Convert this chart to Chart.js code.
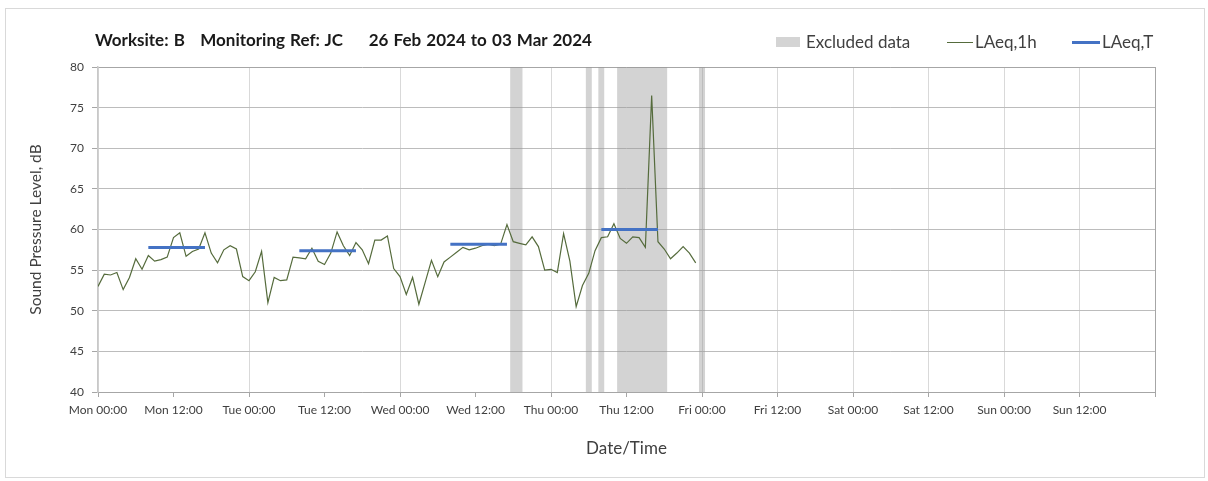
<!DOCTYPE html>
<html>
<head>
<meta charset="utf-8">
<script src="https://cdn.jsdelivr.net/npm/chart.js@4/dist/chart.umd.min.js"></script>
<style>
body{margin:0;background:#fff;font-family:Lato,"Open Sans",sans-serif;}
#wrap{position:relative;width:1208px;height:481px;overflow:hidden;}
#frame{position:absolute;left:5px;top:8px;width:1200px;height:470px;border:1px solid #d9d9d9;box-sizing:border-box;}
#chart{position:absolute;left:0;top:0;}
#title{position:absolute;left:95px;top:29px;font-size:17px;font-weight:bold;color:#1a1a1a;white-space:pre;word-spacing:1px;}
.leg{position:absolute;top:31px;font-size:17px;color:#404040;white-space:pre;}
.mk{position:absolute;}
</style>
</head>
<body>
<div id="wrap">
<div id="frame"></div>
<canvas id="chart" width="1208" height="481"></canvas>
<div id="title">Worksite: B   Monitoring Ref: JC     26 Feb 2024 to 03 Mar 2024</div>
<div id="legend"></div>
</div>
<script>
// hourly LAeq,1h from Mon 00:00 (hour 0) to Thu 23:00 (hour 95)
const laeq1h = [
53.0,54.5,54.4,54.7,52.6,54.1,56.4,55.1,56.8,56.1,56.3,56.6,
59.0,59.6,56.7,57.3,57.6,59.6,57.1,55.9,57.5,58.0,57.6,54.2,
53.7,54.8,57.3,51.0,54.1,53.7,53.8,56.6,56.5,56.4,57.7,56.1,
55.7,57.1,59.7,58.0,56.8,58.4,57.5,55.8,58.7,58.7,59.2,55.2,
54.2,52.0,54.1,50.8,53.5,56.2,54.2,56.0,56.6,57.2,57.8,57.5,
57.7,58.0,58.2,58.0,58.2,60.6,58.5,58.3,58.1,59.1,57.9,55.0,
55.1,54.7,59.5,56.1,50.5,53.1,54.6,57.4,59.0,59.1,60.7,58.9,
58.3,59.1,59.0,57.8,76.5,58.5,57.6,56.4,57.1,57.9,57.1,55.9
];

// LAeq,T per working day (hours from Mon 00:00)
const periodStart = [8,32,56,80];
const periodEnd = [17,41,65,89];
const laeqT = [57.8,57.4,58.2,60.0];

// hours flagged as excluded
const excludedHours = [66,67,78,80,83,84,85,86,87,88,89,90,96];

const xTickLabels = ["Mon 00:00","Mon 12:00","Tue 00:00","Tue 12:00","Wed 00:00","Wed 12:00",
"Thu 00:00","Thu 12:00","Fri 00:00","Fri 12:00","Sat 00:00","Sat 12:00","Sun 00:00","Sun 12:00"];

const yMin = 40, yMax = 80;

const greenCol = "#556b3c";
const blueCol = "#4472c4";
const greyFill = "rgba(150,150,150,0.42)";

// build data
const lineData = laeq1h.map((v,i)=>({x:i,y:v}));

const tData = [];
for(let i=0;i<laeqT.length;i++){
  tData.push({x:periodStart[i],y:laeqT[i]});
  tData.push({x:periodEnd[i],y:laeqT[i]});
  tData.push({x:periodEnd[i],y:null});
}

// group excluded hours into runs
const runs = [];
excludedHours.forEach(h=>{
  const last = runs[runs.length-1];
  if(last && h===last[1]+1) last[1]=h;
  else runs.push([h,h]);
});

const bandSets = runs.map((r,i)=>({
  label: i===0 ? "Excluded data" : "",
  data:[{x:r[0]-0.5,y:yMax},{x:r[1]+0.5,y:yMax}],
  borderWidth:0,
  pointRadius:0,
  backgroundColor:greyFill,
  fill:"start",
  order:3
}));

const ctx = document.getElementById("chart");

const chart = new Chart(ctx,{
  type:"line",
  data:{
    datasets:[
      {label:"LAeq,T",data:tData,borderColor:blueCol,borderWidth:3,pointRadius:0,spanGaps:false,order:1,borderCapStyle:"butt"},
      {label:"LAeq,1h",data:lineData,borderColor:greenCol,borderWidth:1.2,pointRadius:0,tension:0,order:2},
      ...bandSets
    ]
  },
  options:{
    responsive:false,
    animation:false,
    layout:{padding:{left:23,right:53,top:67,bottom:18}},
    plugins:{legend:{display:false},title:{display:false},tooltip:{enabled:false}},
    scales:{
      x:{
        type:"linear",
        min:0,
        max:168,
        afterFit:(s)=>{s.height=71;},
        border:{color:"#a6a6a6"},
        grid:{
          color:(c)=>{
            const v=c.tick ? c.tick.value : 0;
            if(v===168) return "#a6a6a6";
            return (v%24===0 || v>=108) ? "#d9d9d9" : "rgba(0,0,0,0)";
          },
          tickColor:"#a6a6a6",
          tickLength:5
        },
        ticks:{
          stepSize:12,
          autoSkip:false,
          maxRotation:0,
          padding:6,
          color:"#404040",
          font:{family:"Lato",size:12},
          callback:(v)=>xTickLabels[v/12] || ""
        },
        title:{display:true,text:"Date/Time",color:"#404040",font:{family:"Lato",size:17}}
      },
      y:{
        min:yMin,
        max:yMax,
        afterFit:(s)=>{s.width=75;},
        border:{color:"#c8c8c8",width:1.5},
        grid:{
          color:(c)=>c.tick && c.tick.value===yMax ? "#a6a6a6" : "#bcbcbc",
          tickColor:"#a6a6a6",
          tickLength:6
        },
        ticks:{stepSize:5,padding:8,color:"#404040",font:{family:"Lato",size:12}},
        title:{display:true,text:"Sound Pressure Level, dB",color:"#404040",font:{family:"Lato",size:15.5}}
      }
    }
  }
});

// html legend
const legendItems = [
  {text:"Excluded data",kind:"box",color:"#d4d4d4",mx:776,tx:806},
  {text:"LAeq,1h",kind:"line",color:greenCol,w:1,mx:947,tx:975},
  {text:"LAeq,T",kind:"line",color:blueCol,w:3,mx:1072,tx:1102}
];
const legEl = document.getElementById("legend");
legendItems.forEach(it=>{
  const m=document.createElement("div");
  m.className="mk";
  if(it.kind==="box"){
    m.style.cssText=`left:${it.mx}px;top:37px;width:24px;height:10px;background:${it.color}`;
  }else{
    m.style.cssText=`left:${it.mx}px;top:${42-it.w/2}px;width:${it.tx-it.mx-2}px;height:${it.w}px;background:${it.color}`;
  }
  legEl.appendChild(m);
  const t=document.createElement("div");
  t.className="leg";
  t.style.left=it.tx+"px";
  t.textContent=it.text;
  legEl.appendChild(t);
});
</script>
</body>
</html>
